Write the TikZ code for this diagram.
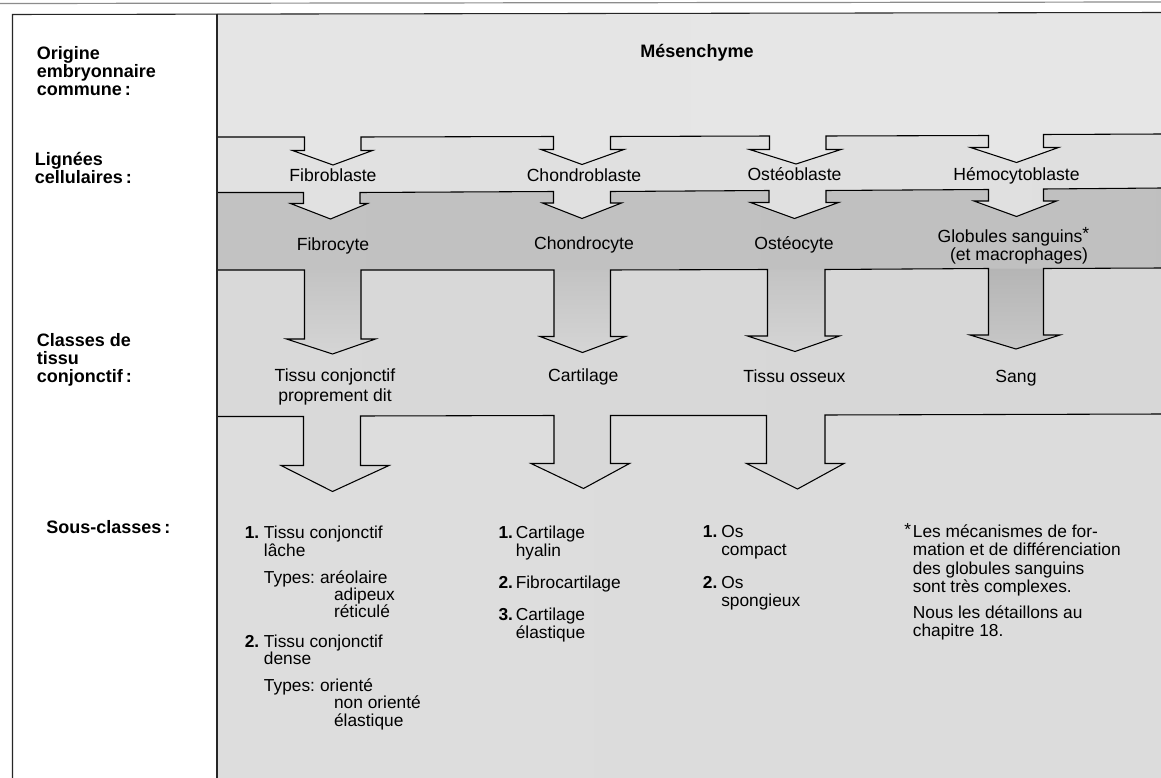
\documentclass[tikz,border=0pt]{standalone}
\usepackage{fontspec}
\setmainfont{Liberation Sans}
\usetikzlibrary{calc}
\definecolor{cA}{gray}{0.895}
\definecolor{cA2}{gray}{0.905}
\definecolor{cB}{gray}{0.885}
\definecolor{cB2}{gray}{0.875}
\definecolor{cB3}{gray}{0.80}
\definecolor{cC}{gray}{0.765}
\definecolor{cC2}{gray}{0.75}
\definecolor{cC3}{gray}{0.50}
\definecolor{cCs}{gray}{0.71}
\definecolor{cD}{gray}{0.855}
\definecolor{cD2}{gray}{0.84}
\definecolor{cD3}{gray}{0.62}
\definecolor{cE}{gray}{0.87}
\definecolor{cE2}{gray}{0.86}
\definecolor{cE3}{gray}{0.74}
\definecolor{cLow}{gray}{0.835}
\definecolor{cLowS}{gray}{0.78}
\pgfdeclarehorizontalshading{shA}{100bp}{color(0bp)=(cA); color(100bp)=(cA2)}
\pgfdeclarehorizontalshading{shB}{100bp}{color(0bp)=(cB); color(80bp)=(cB2); color(100bp)=(cB3)}
\pgfdeclarehorizontalshading{shC}{100bp}{color(0bp)=(cC); color(80bp)=(cC2); color(100bp)=(cC3)}
\pgfdeclarehorizontalshading{shD}{100bp}{color(0bp)=(cD); color(82bp)=(cD2); color(100bp)=(cD3)}
\pgfdeclarehorizontalshading{shE}{100bp}{color(0bp)=(cE); color(85bp)=(cE2); color(100bp)=(cE3)}
\newcommand\cellfont{\fontsize{13.2}{16}\selectfont}
\newcommand\subfont{\fontsize{13}{16}\selectfont}
\newcommand\labfont{\fontsize{13.5}{16}\selectfont\bfseries}
% band boundary lines (left to right), each starting with a segment
\def\LineOne{-- (217,137) -- (304.5,137) -- (304.5,150.5) -- (292.5,150.5) -- (333,165) -- (372.5,150.5) -- (361,150.5) -- (361,137)
 -- (553.5,136.5) -- (553.5,149.5) -- (541,149.5) -- (582,164.5) -- (624,149.5) -- (610.5,149.5) -- (610.5,136.5)
 -- (769.5,136) -- (769.5,149.5) -- (749.5,149.5) -- (796,164) -- (841,149.5) -- (826,149.5) -- (826,136)
 -- (988.5,135.5) -- (988.5,147.5) -- (970.5,147.5) -- (1016.5,162.5) -- (1058.5,147.5) -- (1043.5,147.5) -- (1043.5,134.5)
 -- (1161,134)}
\def\LineTwo{-- (217,192.5) -- (303.5,192.5) -- (303.5,203.5) -- (290.5,203.5) -- (330.5,219) -- (367.5,203.5) -- (360,203.5) -- (360,192.5)
 -- (553.5,191.5) -- (553.5,203) -- (542.5,203) -- (582,218.5) -- (621.5,203) -- (610.5,203) -- (610.5,191.5)
 -- (769,190.5) -- (769,202.5) -- (750.5,202.5) -- (794.5,218.5) -- (838.5,202.5) -- (826,202.5) -- (826,190.5)
 -- (988.5,189.5) -- (988.5,201) -- (974,201) -- (1016.5,216.5) -- (1056.5,201) -- (1043.5,201) -- (1043.5,189)
 -- (1161,188)}
\def\LineThree{-- (217,270) -- (304.5,270) -- (304.5,339) -- (286.5,339) -- (332.5,354) -- (375.5,339) -- (361,339) -- (361,270)
 -- (554,270) -- (554,336.5) -- (540,336.5) -- (582.5,352.5) -- (625.5,336.5) -- (610.5,336.5) -- (610.5,270)
 -- (767.5,269.5) -- (767.5,336) -- (747.5,336) -- (795,351.5) -- (839.5,336) -- (825,336) -- (825,269.5)
 -- (988.5,268.5) -- (988.5,335) -- (970,335) -- (1016,349) -- (1060,335) -- (1043.5,335) -- (1043.5,268.5)
 -- (1161,268)}
\def\LineFour{-- (217,416.5) -- (303.5,416.5) -- (303.5,465.5) -- (281,465.5) -- (332.5,491.5) -- (389,465.5) -- (360.5,465.5) -- (360.5,416)
 -- (554,415.5) -- (554,463.5) -- (531,463.5) -- (583.5,488.5) -- (629.5,463.5) -- (610.5,463.5) -- (610.5,415.5)
 -- (766.5,415.5) -- (766.5,463.5) -- (746.5,463.5) -- (797.5,489) -- (844,463.5) -- (825,463.5) -- (825,415)
 -- (1161,414)}
\begin{document}
\begin{tikzpicture}[x=0.75pt,y=-0.75pt,
  outl/.style={draw=black,line width=0.8pt,line join=miter},
  framel/.style={draw=black!85,line width=0.8pt},
  lab/.style={font=\labfont,anchor=base west,inner sep=0pt},
  cell/.style={font=\cellfont,anchor=base,inner sep=0pt},
  sub/.style={font=\subfont,anchor=base west,inner sep=0pt},
  num/.style={font=\subfont\bfseries,anchor=base west,inner sep=0pt}]
\useasboundingbox (0,0) rectangle (1161,778);
\fill[white] (0,0) rectangle (1161,778);
% shaded bands
\shade[shading=shA] (217,13) rectangle (1161,778);
\shade[shading=shB] (217,778) \LineOne -- (1161,778) -- cycle;
\shade[shading=shC] (217,778) \LineTwo -- (1161,778) -- cycle;
\shade[shading=shD] (217,778) \LineThree -- (1161,778) -- cycle;
\shade[shading=shE] (217,778) \LineFour -- (1161,778) -- cycle;
% big arrows fading downwards
\shade[top color=cC,bottom color=cLow] (304.5,270) -- (304.5,339) -- (286.5,339) -- (332.5,354) -- (375.5,339) -- (361,339) -- (361,270) -- cycle;
\shade[top color=cC,bottom color=cLow] (554,270) -- (554,336.5) -- (540,336.5) -- (582.5,352.5) -- (625.5,336.5) -- (610.5,336.5) -- (610.5,270) -- cycle;
\shade[top color=cC,bottom color=cLow] (767.5,269.5) -- (767.5,336) -- (747.5,336) -- (795,351.5) -- (839.5,336) -- (825,336) -- (825,269.5) -- cycle;
\shade[top color=cCs,bottom color=cLowS] (988.5,268.5) -- (988.5,335) -- (970,335) -- (1016,349) -- (1060,335) -- (1043.5,335) -- (1043.5,268.5) -- cycle;
% outlines of the bands
\draw[outl] (217,137) \LineOne;
\draw[outl] (217,192.5) \LineTwo;
\draw[outl] (217,270) \LineThree;
\draw[outl] (217,416.5) \LineFour;
% frame
\draw[black!45,line width=0.9pt] (0,3.5) -- (1161,2);
\draw[framel] (12.5,778) -- (12.5,14.5) -- (1161,12.5);
\draw[framel] (217,14) -- (217,778);
% left column labels
\node[lab] (o1) at (36.5,59.5) {Origine};
\node[lab] (o2) at (36.5,77.5) {embryonnaire};
\node[lab] (o3) at (36.5,95.5) {commune\,:};
\node[lab] (l1) at (34.5,165.5) {Lignées};
\node[lab] (l2) at (34.5,183) {cellulaires\,:};
\node[lab] (k1) at (36.5,346) {Classes de};
\node[lab] (k2) at (36.5,364) {tissu};
\node[lab] (k3) at (36.5,382) {conjonctif\,:};
\node[lab] (s1) at (46,533.5) {Sous-classes\,:};
% title
\node[font=\labfont,anchor=base,inner sep=0pt] (mes) at (697,57.5) {Mésenchyme};
% cell lines
\node[cell] (fb) at (333,181.5) {Fibroblaste};
\node[cell] (cb) at (584,181.5) {Chondroblaste};
\node[cell] (ob) at (794.5,180.5) {Ostéoblaste};
\node[cell] (hb) at (1016.5,180) {Hémocytoblaste};
\node[cell] (fc) at (333,250) {Fibrocyte};
\node[cell] (cc) at (584,249.5) {Chondrocyte};
\node[cell] (oc) at (794,249) {Ostéocyte};
\node[cell] (gs) at (1010,242.5) {Globules sanguins\rlap{\raisebox{2.5pt}{*}}};
\node[cell] (gm) at (1019,260) {(et macrophages)};
% classes
\node[cell] (tc1) at (335,381.7) {Tissu conjonctif};
\node[cell] (tc2) at (335,401) {proprement dit};
\node[cell] (ca) at (583.3,381.7) {Cartilage};
\node[cell] (to) at (794.5,382.3) {Tissu osseux};
\node[cell] (sa) at (1016,382.7) {Sang};
% sub-classes: connective tissue proper
\node[num] (a1n) at (244.5,538.4) {1.};
\node[sub] (a1) at (263.7,538.4) {Tissu conjonctif};
\node[sub] (a1b) at (263.7,556.3) {lâche};
\node[sub] (a1t) at (263.7,583) {Types:};
\node[sub] (a1t1) at ($(a1t.base east)+(4.5,0)$) {aréolaire};
\node[sub] (a1t2) at ($(a1t1.base west)+(14,17.2)$) {adipeux};
\node[sub] (a1t3) at ($(a1t1.base west)+(14,34)$) {réticulé};
\node[num] (a2n) at (244.5,647) {2.};
\node[sub] (a2) at (263.7,647) {Tissu conjonctif};
\node[sub] (a2b) at (263.7,664) {dense};
\node[sub] (a2t) at (263.7,691) {Types:};
\node[sub] (a2t1) at ($(a2t.base east)+(4.5,0)$) {orienté};
\node[sub] (a2t2) at ($(a2t1.base west)+(14,17.5)$) {non orienté};
\node[sub] (a2t3) at ($(a2t1.base west)+(14,35)$) {élastique};
% cartilage
\node[num] (b1n) at (498.3,538.4) {1.};
\node[sub] (b1) at (515.5,538.4) {Cartilage};
\node[sub] (b1b) at (515.5,556.3) {hyalin};
\node[num] (b2n) at (498.3,588) {2.};
\node[sub] (b2) at (515.5,588) {Fibrocartilage};
\node[num] (b3n) at (498.3,620) {3.};
\node[sub] (b3) at (515.5,620) {Cartilage};
\node[sub] (b3b) at (515.5,638) {élastique};
% bone
\node[num] (c1n) at (702.6,537.7) {1.};
\node[sub] (c1) at (721,537.7) {Os};
\node[sub] (c1b) at (721,555.7) {compact};
\node[num] (c2n) at (702.6,588) {2.};
\node[sub] (c2) at (721,588) {Os};
\node[sub] (c2b) at (721,606) {spongieux};
% footnote
\node[sub] (fst) at (904,537) {\raisebox{1pt}{*}};
\node[sub] (f1) at (912.6,537) {Les mécanismes de for-};
\node[sub] (f2) at (912.6,555.5) {mation et de différenciation};
\node[sub] (f3) at (912.6,574.5) {des globules sanguins};
\node[sub] (f4) at (912.6,592.7) {sont très complexes.};
\node[sub] (f5) at (912.6,618) {Nous les détaillons au};
\node[sub] (f6) at (912.6,636.5) {chapitre 18.};
\end{tikzpicture}
\end{document}
